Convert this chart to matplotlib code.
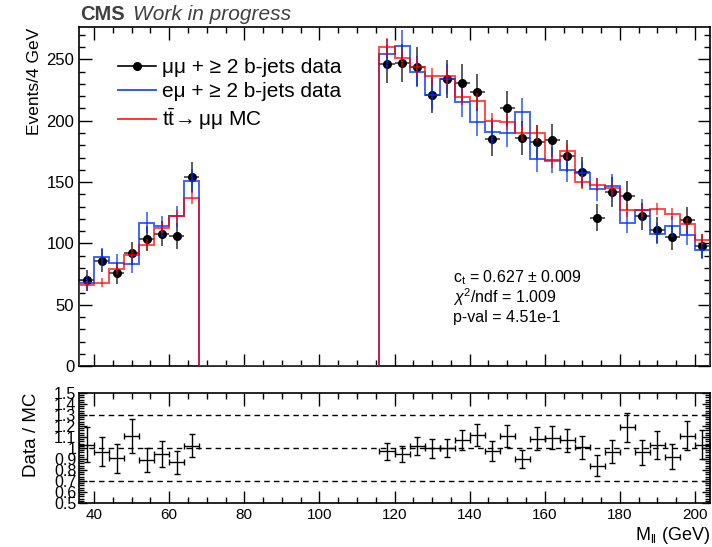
import numpy as np
import matplotlib
matplotlib.use('Agg')
import matplotlib.pyplot as plt
from matplotlib.lines import Line2D
from matplotlib.ticker import MultipleLocator

plt.rcParams['font.family'] = ['Liberation Sans', 'DejaVu Sans']
plt.rcParams['mathtext.fontset'] = 'custom'
plt.rcParams['mathtext.rm'] = 'Liberation Sans'
plt.rcParams['mathtext.it'] = 'Liberation Sans:italic'
plt.rcParams['mathtext.bf'] = 'Liberation Sans:bold'

# 4 GeV bins, Z window (68-116 GeV) removed
bin_edges = np.arange(36, 205, 4)
n_gap = (116 - 68) // 4

mumu_low = [70, 86, 76, 92, 104, 108, 106, 154]
mumu_high = [246, 247, 244, 221, 234, 231, 223, 185, 210, 186, 183,
             184, 171, 158, 121, 142, 139, 122, 111, 105, 119, 98]

emu_low = [68, 89, 84, 83, 117, 114, 122, 151]
emu_high = [254, 261, 240, 221, 234, 215, 199, 191, 190, 207, 169,
            168, 160, 157, 144, 147, 117, 127, 108, 114, 107, 95]

mc_low = [66, 68, 79, 91, 99, 113, 122, 137]
mc_high = [260, 251, 244, 236, 236, 219, 216, 200, 199, 190, 190,
           167, 175, 150, 148, 145, 127, 127, 128, 124, 116, 103]

# per-event weights of the scaled e-mu sample and of the MC
emu_weight = 0.65
mc_weight = 0.2

fit_lines = [r'c$_{\rm t}$ = 0.627 $\pm$ 0.009',
             r'$\chi^{2}$/ndf = 1.009',
             'p-val = 4.51e-1']


def full(low, high):
    return np.concatenate([low, np.zeros(n_gap), high]).astype(float)


mumu = full(mumu_low, mumu_high)
emu = full(emu_low, emu_high)
mc = full(mc_low, mc_high)
centers = 0.5 * (bin_edges[1:] + bin_edges[:-1])
half_w = 0.5 * np.diff(bin_edges)
filled = mumu > 0

mumu_err = np.sqrt(mumu)
emu_err = np.sqrt(emu_weight * emu)
mc_err = np.sqrt(mc_weight * mc)

blue = '#0030ff'
red = '#ff0000'

fig = plt.figure(figsize=(7.12, 5.47), dpi=100)
ax = fig.add_axes([0.1110, 0.3303, 0.8862, 0.6198])
ax_r = fig.add_axes([0.1110, 0.0804, 0.8862, 0.2011])

# main panel
ax.errorbar(centers[filled], mumu[filled], xerr=half_w[filled], yerr=mumu_err[filled],
            fmt='o', color='k', ms=5.5, ecolor='0.25', elinewidth=1.2, zorder=2)
ax.stairs(emu, bin_edges, color=blue, lw=1.4, alpha=0.75, zorder=3)
ax.errorbar(centers[filled], emu[filled], yerr=emu_err[filled], fmt='none',
            ecolor=blue, elinewidth=1.2, alpha=0.75, zorder=3)
ax.stairs(mc, bin_edges, color=red, lw=1.4, alpha=0.7, zorder=4)
ax.errorbar(centers[filled], mc[filled], yerr=mc_err[filled], fmt='none',
            ecolor=red, elinewidth=1.2, alpha=0.7, zorder=4)

ax.set_xlim(bin_edges[0], bin_edges[-1])
ax.set_ylim(0, 276)
ax.xaxis.set_major_locator(MultipleLocator(20))
ax.xaxis.set_minor_locator(MultipleLocator(5))
ax.yaxis.set_major_locator(MultipleLocator(50))
ax.yaxis.set_minor_locator(MultipleLocator(10))
ax.tick_params(which='both', direction='in', top=True, right=True,
               labelbottom=False, labelsize=12, width=1)
ax.tick_params(which='major', length=9)
ax.tick_params(which='minor', length=4.5)
ax.set_ylabel('Events/4 GeV', fontsize=12.5, loc='top')
ax.yaxis.set_label_coords(-0.059, 1.0)

handles = [Line2D([], [], color='k', marker='o', ms=5.5, lw=1.2),
           Line2D([], [], color=blue, lw=1.4, alpha=0.8),
           Line2D([], [], color=red, lw=1.4, alpha=0.8)]
labels = [u'\u03bc\u03bc + \u2265 2 b-jets data',
          u'e\u03bc + \u2265 2 b-jets data',
          r'$\mathrm{t\bar{t}}\!\rightarrow$' + u'\u03bc\u03bc MC']
ax.legend(handles, labels, loc='upper left', bbox_to_anchor=(0.062, 0.91),
          frameon=False, fontsize=15, handlelength=1.8, handletextpad=0.3,
          labelspacing=0.25, borderpad=0, borderaxespad=0)

for i, line in enumerate(fit_lines):
    ax.text(0.593, 0.263 - 0.06 * i, line, transform=ax.transAxes,
            fontsize=11.5, va='center', ha='left')

for a in (ax, ax_r):
    for s in a.spines.values():
        s.set_linewidth(1.2)

# ratio panel: mu-mu data over scaled e-mu data
ratio = mumu[filled] / emu[filled]
ratio_err = ratio * np.sqrt(1.0 / mumu[filled] + emu_weight / emu[filled])
ax_r.errorbar(centers[filled], ratio, xerr=half_w[filled], yerr=ratio_err,
              fmt='none', ecolor='k', elinewidth=1, capsize=2, capthick=1)
for level in (0.7, 1.0, 1.3):
    ax_r.axhline(level, color='k', ls='--', lw=1, dashes=(4, 3))

ax_r.set_xlim(bin_edges[0], bin_edges[-1])
ax_r.set_ylim(0.5, 1.5)
ax_r.xaxis.set_major_locator(MultipleLocator(20))
ax_r.xaxis.set_minor_locator(MultipleLocator(5))
ax_r.yaxis.set_major_locator(MultipleLocator(0.1))
ax_r.yaxis.set_minor_locator(MultipleLocator(0.02))
ax_r.yaxis.set_major_formatter(plt.FuncFormatter(lambda v, p: ('%.1f' % v).rstrip('0').rstrip('.')))
ax_r.tick_params(which='both', direction='in', top=True, right=True, width=1)
ax_r.tick_params(axis='x', labelsize=11)
ax_r.tick_params(axis='y', labelsize=11.5, pad=2)
ax_r.tick_params(axis='x', which='major', length=9)
ax_r.tick_params(axis='x', which='minor', length=4.5)
ax_r.tick_params(axis='y', which='major', length=6)
ax_r.tick_params(axis='y', which='minor', length=3.5)
ax_r.set_ylabel('Data / MC', fontsize=13.5, loc='top')
ax_r.yaxis.set_label_coords(-0.062, 1.0)
ax_r.set_xlabel(r'M$_{\rm ll}$ (GeV)', fontsize=13, loc='right', labelpad=2)

fig.text(80 / 712, 1 - 20 / 547, 'CMS', fontsize=14.5, weight='bold',
         color='#404040', va='baseline')
fig.text(133 / 712, 1 - 20 / 547, 'Work in progress', fontsize=15,
         style='italic', color='#404040', va='baseline')

fig.savefig('out.png', dpi=100)
